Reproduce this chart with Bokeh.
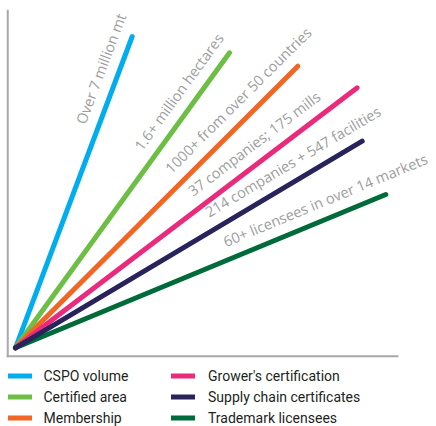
import math
from bokeh.plotting import figure
from bokeh.models import (Range1d, ColumnDataSource, LabelSet, Legend, LegendItem, Arrow)
from bokeh.core.properties import value
from bokeh.embed import file_html
from bokeh.resources import INLINE

# ---- data ----
series = ["CSPO volume", "Certified area", "Membership",
          "Grower's certification", "Supply chain certificates", "Trademark licensees"]
end_x = [116.7, 214.0, 282.3, 341.7, 346.7, 370.3]
end_y = [311.3, 295.0, 281.6, 260.0, 206.6, 153.3]
labels = ["Over 7 million mt", "1.6+ million hectares", "1000+ from over 50 countries",
          "37 companies; 175 mills", "214 companies + 547 facilities",
          "60+ licensees in over 14 markets"]
colors = ["#00AEEF", "#6CBE45", "#F26522", "#EC2A7B", "#29235C", "#006B3A"]

# axis frame extent (data units)
AX_LEFT, AX_RIGHT, AX_BOTTOM, AX_TOP = -7.75, 383.0, -8.4, 338.0

p = figure(width=436, height=426, output_backend="svg", toolbar_location=None,
           x_range=Range1d(-15, 421), y_range=Range1d(-78.7, 347.3),
           min_border_left=0, min_border_top=0, min_border_right=0,
           min_border_bottom=0)
p.axis.visible = False
p.grid.visible = False
p.outline_line_color = None
p.background_fill_color = "white"

# L-shaped axis lines
axis_style = dict(line_color="#A7A9AC", line_width=2, start=None, end=None)
p.add_layout(Arrow(x_start=AX_LEFT, y_start=AX_TOP, x_end=AX_LEFT,
                   y_end=AX_BOTTOM - 1, **axis_style))
p.add_layout(Arrow(x_start=AX_LEFT - 1, y_start=AX_BOTTOM, x_end=AX_RIGHT,
                   y_end=AX_BOTTOM, **axis_style))

renderers = [None] * len(series)
for i in [0, 1, 2, 3, 5, 4]:
    renderers[i] = p.segment(x0=[0], y0=[0], x1=[end_x[i]], y1=[end_y[i]],
                             line_color=colors[i], line_width=5, line_cap="round")

# label positions along each line
d_along = 233.0
off = 12.5
lx, ly, ang = [], [], []
for x, y in zip(end_x, end_y):
    t = math.atan2(y, x)
    ux, uy = math.cos(t), math.sin(t)
    lx.append(d_along * ux - off * uy)
    ly.append(d_along * uy + off * ux)
    ang.append(t)
src = ColumnDataSource(dict(x=lx, y=ly, text=labels, angle=ang))
ls = LabelSet(x="x", y="y", text="text", angle="angle", source=src,
              text_font=value("Open Sans"), text_font_size=value("14.5px"),
              text_color=value("#9D9D9D"),
              text_align="left", text_baseline="alphabetic")
p.add_layout(ls)

def make_legend(idx, vx, standoff):
    items = [LegendItem(label=series[i], renderers=[renderers[i]]) for i in idx]
    lg = Legend(items=items, location=(vx, -2), orientation="vertical",
                glyph_width=24, glyph_height=21, label_height=21,
                label_standoff=standoff, spacing=0, padding=0, margin=0,
                border_line_color=None, background_fill_alpha=0,
                label_text_font="Roboto", label_text_font_size="14px",
                label_text_color="#231F20")
    p.add_layout(lg, "center")

make_legend([0, 1, 2], 7.5, 12)
make_legend([3, 4, 5], 171, 13)

open("out.html", "w").write(file_html(p, INLINE))
